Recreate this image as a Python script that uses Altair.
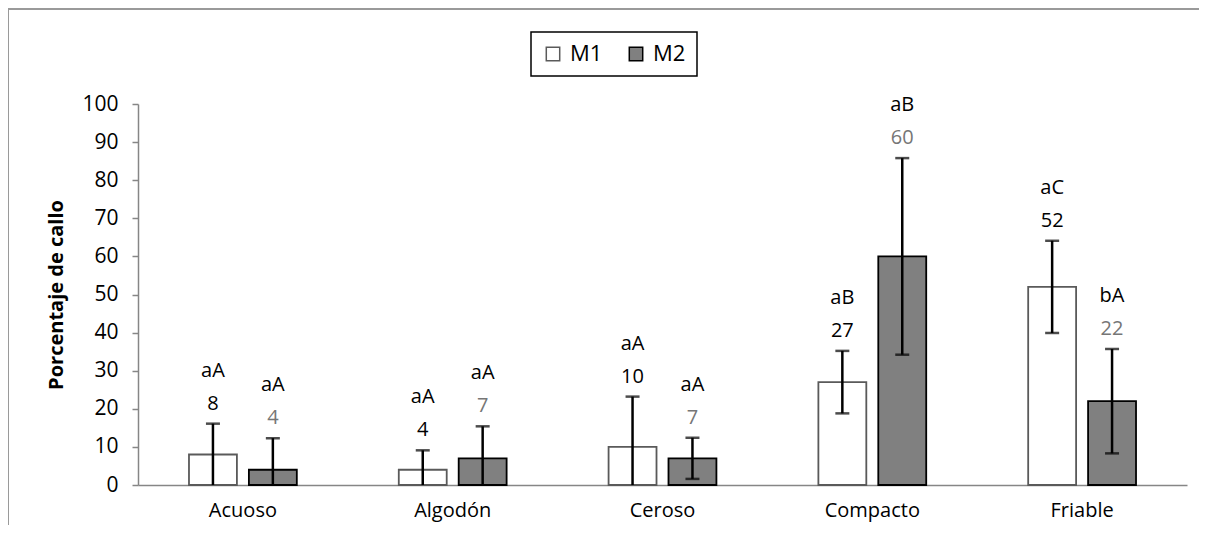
import altair as alt
import pandas as pd

categories = ["Acuoso", "Algodón", "Ceroso", "Compacto", "Friable"]
series = ["M1", "M2"]
m1_values = [8, 4, 10, 27, 52]
m2_values = [4, 7, 7, 60, 22]
m1_err = [8.1, 5.1, 13.2, 8.2, 12.1]
m2_err = [8.3, 8.4, 5.4, 25.8, 13.7]
m1_letters = ["aA", "aA", "aA", "aB", "aC"]
m2_letters = ["aA", "aA", "aA", "aB", "bA"]
y_ticks = [0, 10, 20, 30, 40, 50, 60, 70, 80, 90, 100]

rows = []
for s, vals, errs, lets in [("M1", m1_values, m1_err, m1_letters),
                            ("M2", m2_values, m2_err, m2_letters)]:
    for c, v, e, l in zip(categories, vals, errs, lets):
        rows.append({"cat": c, "series": s, "value": v, "err": e, "letter": l,
                     "vlabel": str(v)})
df = pd.DataFrame(rows)

W, H = 1049, 381
FONT = "Open Sans"

y_scale = alt.Scale(domain=[0, 100], nice=False)
y_axis = alt.Axis(values=y_ticks, grid=False, tickCount=11, labelOverlap=False,
                  tickSize=6, tickColor="#868686", tickWidth=1.5,
                  domainColor="#868686", domainWidth=1.5,
                  labelFontSize=21, labelColor="black", labelPadding=14,
                  labelFont=FONT, titleFont=FONT, titleFontSize=20,
                  titleFontWeight="bold", titleColor="black", titlePadding=15)
x_axis = alt.Axis(ticks=False, labelAngle=0, labelFontSize=20,
                  labelPadding=15, labelColor="black",
                  domainColor="#868686", domainWidth=1.5, labelFont=FONT)


def X():
    return alt.X("cat:N", sort=categories, title=None,
                 scale=alt.Scale(paddingInner=0.486, paddingOuter=0.243),
                 axis=x_axis)


def XO():
    return alt.XOffset("series:N", sort=series,
                       scale=alt.Scale(paddingInner=0.2, paddingOuter=0))


def Y(field):
    return alt.Y(field, scale=y_scale, title="Porcentaje de callo", axis=y_axis)


base = alt.Chart(df).transform_calculate(
    hi="datum.value + datum.err",
    lo="max(datum.value - datum.err, 0)",
    lc="datum.series == 'M1' ? 'black' : '#767676'",
)

bars = base.mark_bar(strokeWidth=1.8).encode(
    x=X(), xOffset=XO(), y=Y("value:Q"),
    fill=alt.Fill("series:N", sort=series, title=None,
                  scale=alt.Scale(domain=series, range=["white", "#808080"])),
    stroke=alt.Stroke("series:N", sort=series, title=None,
                      scale=alt.Scale(domain=series, range=["#5a5a5a", "black"])),
)

err_line = base.mark_rule(color="black", strokeWidth=2.5).encode(
    x=X(), xOffset=XO(), y=Y("lo:Q"), y2="hi:Q",
)
cap_top = base.mark_tick(color="black", thickness=2.5, size=14,
                         orient="horizontal").encode(
    x=X(), xOffset=XO(), y=Y("hi:Q"),
)
cap_bot = base.transform_filter("datum.lo > 0").mark_tick(
    color="black", thickness=2.5, size=14, orient="horizontal").encode(
    x=X(), xOffset=XO(), y=Y("lo:Q"),
)
val_text = base.mark_text(fontSize=20, font=FONT, dy=-20, baseline="middle").encode(
    x=X(), xOffset=XO(), y=Y("hi:Q"),
    text="vlabel:N",
    color=alt.Color("lc:N", scale=None),
)
let_text = base.mark_text(fontSize=20, font=FONT, dy=-53, baseline="middle",
                          color="black").encode(
    x=X(), xOffset=XO(), y=Y("hi:Q"),
    text="letter:N",
)

border_top = alt.Chart(df).mark_rule(color="#9a9a9a", strokeWidth=2).encode(
    x=alt.value(-130), x2=alt.value(W + 30), y=alt.value(-95))
border_left = alt.Chart(df).mark_rule(color="#9a9a9a", strokeWidth=2).encode(
    x=alt.value(-130), y=alt.value(-95), y2=alt.value(H + 50))

chart = alt.layer(border_top, border_left, bars, err_line, cap_top, cap_bot,
                  val_text, let_text).properties(
    width=W, height=H,
    autosize=alt.AutoSizeParams(type="none"),
    padding={"left": 130, "top": 96, "right": 12, "bottom": 40},
).configure_view(stroke=None).configure_legend(
    orient="none", legendX=393, legendY=-72, direction="horizontal",
    strokeColor="black", strokeWidth=1.5, padding=11, symbolType="square",
    symbolSize=180, symbolStrokeWidth=1.5, labelFontSize=22, labelFont=FONT,
    labelColor="black", columnPadding=22, labelOffset=6,
)

chart.save("out.html", embed_options={"renderer": "svg", "actions": False})
